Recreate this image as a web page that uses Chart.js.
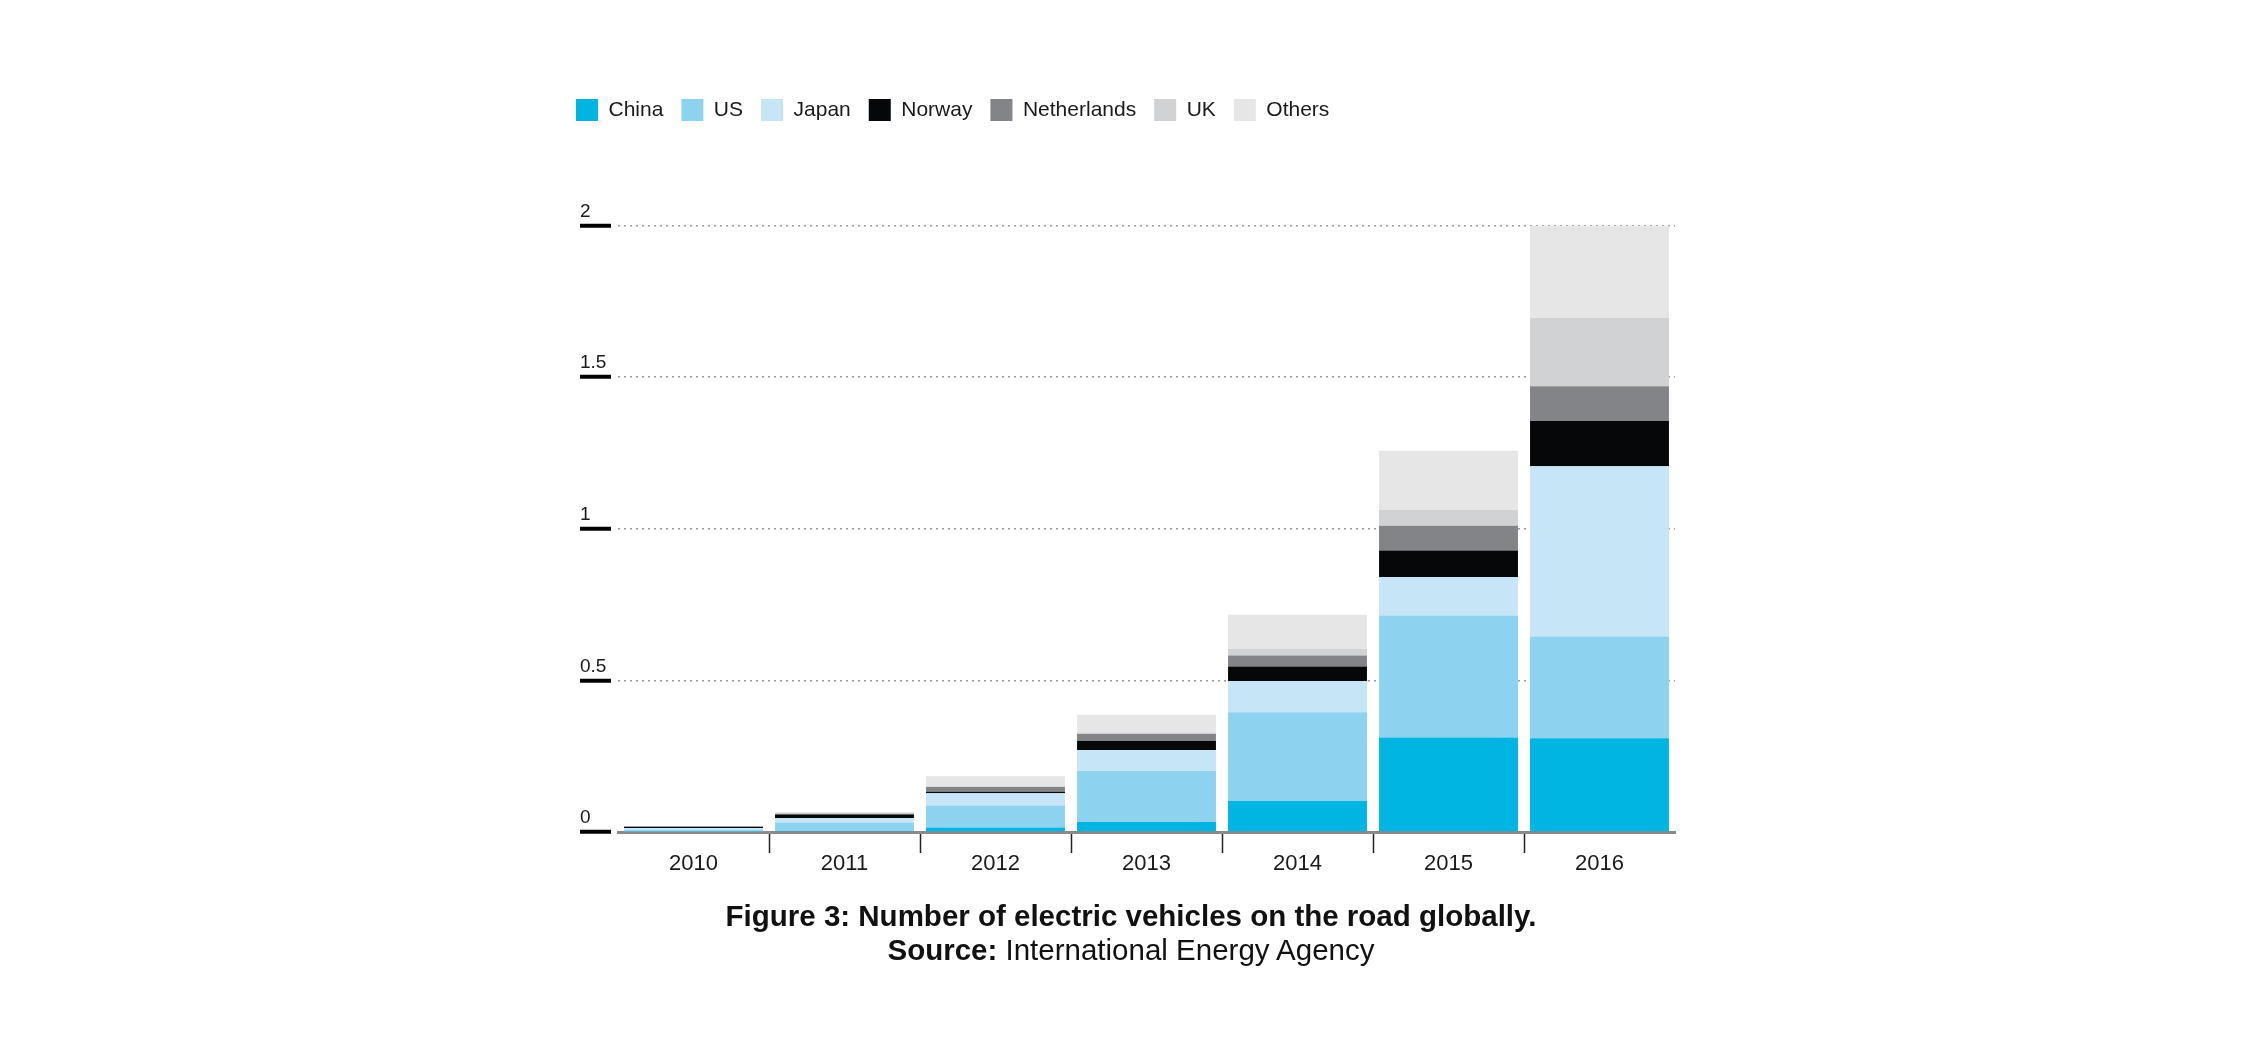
<!DOCTYPE html>
<html>
<head>
<meta charset="utf-8">
<script src="https://cdn.jsdelivr.net/npm/chart.js@4/dist/chart.umd.min.js"></script>
<style>
  html, body { margin: 0; padding: 0; background: #ffffff; overflow: hidden; }
  #wrap { position: relative; width: 2245px; height: 1059px; }
  canvas { position: absolute; left: 0; top: 0; }
  .cap { position: absolute; left: 1131px; transform: translateX(-50%); white-space: nowrap;
         font-family: 'Liberation Sans', Arial, sans-serif; font-size: 29.5px; line-height: 30px; color: #111; }
  .b { font-weight: bold; }
</style>
</head>
<body>
<div id="wrap">
  <canvas id="c" width="2245" height="1059"></canvas>
  <div class="cap b" style="top:901px;">Figure 3: Number of electric vehicles on the road globally.</div>
  <div class="cap" style="top:935px;"><span class="b">Source:</span> International Energy Agency</div>
</div>
<script>
const years = ['2010', '2011', '2012', '2013', '2014', '2015', '2016'];
const china       = [0.002, 0.003, 0.015, 0.033, 0.102, 0.312, 0.309];
const us          = [0.005, 0.028, 0.072, 0.169, 0.293, 0.402, 0.336];
const japan       = [0.006, 0.015, 0.041, 0.068, 0.103, 0.127, 0.561];
const norway      = [0.004, 0.012, 0.005, 0.030, 0.048, 0.087, 0.149];
const netherlands = [0.001, 0.002, 0.015, 0.023, 0.036, 0.082, 0.115];
const uk          = [0.001, 0.002, 0.003, 0.005, 0.022, 0.053, 0.225];
const others      = [0.001, 0.004, 0.033, 0.059, 0.112, 0.194, 0.305];
const yTicks = [0, 0.5, 1, 1.5, 2];
const yTickLabels = ['0', '0.5', '1', '1.5', '2'];

const seriesNames  = ['China', 'US', 'Japan', 'Norway', 'Netherlands', 'UK', 'Others'];
const seriesData   = [china, us, japan, norway, netherlands, uk, others];
const seriesColors = ['#00b5e2', '#8dd3f0', '#c6e6f7', '#060709', '#838487', '#d1d2d4', '#e6e6e6'];

const legendMargin = {
  id: 'legendMargin',
  beforeInit(chart) {
    const orig = chart.legend.fit;
    chart.legend.fit = function () {
      orig.bind(chart.legend)();
      this.height += 94.5;
    };
  }
};

new Chart(document.getElementById('c'), {
  type: 'bar',
  data: {
    labels: years,
    datasets: seriesNames.map((n, i) => ({
      label: n,
      data: seriesData[i],
      backgroundColor: seriesColors[i],
      borderWidth: 0,
      barPercentage: 0.92,
      categoryPercentage: 1.0
    }))
  },
  options: {
    responsive: false,
    animation: false,
    devicePixelRatio: 1,
    layout: { padding: { left: 558, right: 570, top: 81, bottom: 167 } },
    plugins: {
      tooltip: { enabled: false },
      title: { display: false },
      legend: {
        position: 'top',
        align: 'start',
        labels: {
          boxWidth: 22,
          boxHeight: 22,
          padding: 18,
          color: '#1a1a1a',
          font: { family: "'Liberation Sans', Arial, sans-serif", size: 21 }
        }
      }
    },
    scales: {
      x: {
        stacked: true,
        z: 1,
        border: { display: true, color: '#8a8a8a', width: 3 },
        grid: {
          offset: true,
          drawOnChartArea: false,
          drawTicks: true,
          tickLength: 21,
          tickWidth: 1.5,
          tickColor: (ctx) => (ctx.index === 0 || ctx.tick === undefined || ctx.index === undefined) ? 'rgba(0,0,0,0)' : '#222'
        },
        ticks: {
          color: '#1a1a1a',
          padding: -2,
          font: { family: "'Liberation Sans', Arial, sans-serif", size: 22 }
        },
        afterFit: (s) => { s.height = 60; }
      },
      y: {
        stacked: true,
        z: 1,
        min: 0,
        max: 2,
        afterBuildTicks: (s) => { s.ticks = yTicks.map(v => ({ value: v })); },
        border: { display: false, dash: [2, 4] },
        grid: {
          color: (ctx) => (ctx.tick && ctx.tick.value === 0) ? 'rgba(0,0,0,0)' : '#9a9a9a',
          lineWidth: 1.5,
          drawTicks: true,
          tickLength: 38,
          tickWidth: 4,
          tickColor: '#000',
          tickBorderDash: [31, 100]
        },
        ticks: {
          crossAlign: 'far',
          labelOffset: -14,
          color: '#1a1a1a',
          font: { family: "'Liberation Sans', Arial, sans-serif", size: 19 },
          callback: (v, i) => yTickLabels[yTicks.indexOf(v)]
        },
        afterFit: (s) => { s.width = 38; }
      },
      pad: {
        type: 'linear',
        position: 'left',
        weight: 10,
        display: true,
        grid: { display: false },
        border: { display: false },
        ticks: { display: false },
        afterFit: (s) => { s.width = 22; }
      }
    }
  },
  plugins: [legendMargin]
});
</script>
</body>
</html>
